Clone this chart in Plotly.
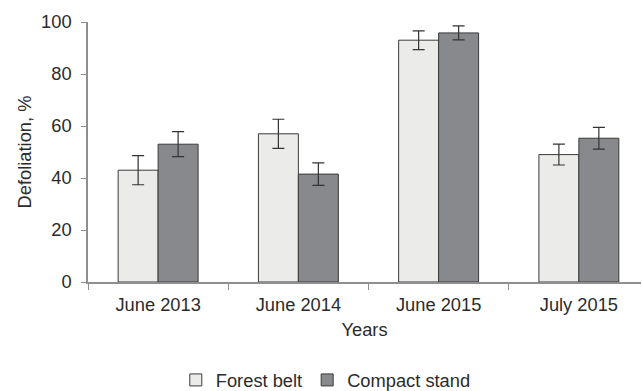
import plotly.graph_objects as go

# Defoliation survey data
periods = ["June 2013", "June 2014", "June 2015", "July 2015"]
forest_belt = [43, 57, 93, 49]
forest_belt_err = [5.6, 5.6, 3.6, 4.0]
compact_stand = [53, 41.5, 95.8, 55.3]
compact_stand_err = [4.8, 4.3, 2.7, 4.2]
y_ticks = [0, 20, 40, 60, 80, 100]

FONT = "Liberation Sans, Arial, sans-serif"
TXT = "#2b2b2b"
AXIS = "#8f8f8f"
FS = 18.3

fig = go.Figure()
fig.add_trace(go.Bar(
    x=periods, y=forest_belt, name="Forest belt",
    marker=dict(color="#ebecea", line=dict(color="#3a3a3a", width=1)),
    error_y=dict(type="data", array=forest_belt_err, color="#333333",
                 thickness=1.2, width=6),
))
fig.add_trace(go.Bar(
    x=periods, y=compact_stand, name="Compact stand",
    marker=dict(color="#88898c", line=dict(color="#3a3a3a", width=1)),
    error_y=dict(type="data", array=compact_stand_err, color="#333333",
                 thickness=1.2, width=6),
))

fig.update_layout(
    width=642, height=391,
    margin=dict(l=88, r=1, t=22, b=109, autoexpand=False),
    paper_bgcolor="white", plot_bgcolor="white",
    barmode="group", bargap=0.43, bargroupgap=0,
    font=dict(family=FONT, size=FS, color=TXT),
    showlegend=True,
    legend=dict(orientation="h", x=0.43, xanchor="center",
                y=-0.377, yanchor="middle",
                font=dict(family=FONT, size=FS, color=TXT),
                itemwidth=30, tracegroupgap=0),
)
fig.update_xaxes(
    range=[-0.5, 3.443], automargin=False,
    showline=True, linecolor=AXIS, linewidth=1.5,
    ticks="outside", tickson="boundaries", ticklen=6, tickcolor=AXIS,
    ticklabelstandoff=5,
    tickfont=dict(family=FONT, size=FS, color=TXT),
    title=dict(text="Years", font=dict(family=FONT, size=FS, color=TXT), standoff=9),
    showgrid=False, zeroline=False,
)
fig.update_yaxes(
    range=[0, 100], tickvals=y_ticks, automargin=False,
    showline=True, linecolor=AXIS, linewidth=1.5,
    ticks="outside", ticklen=5, tickcolor=AXIS,
    ticklabelstandoff=6,
    tickfont=dict(family=FONT, size=FS, color=TXT),
    title=dict(text="Defoliation, %", font=dict(family=FONT, size=FS, color=TXT), standoff=5),
    showgrid=False, zeroline=False,
)

fig.write_html("out.html")
